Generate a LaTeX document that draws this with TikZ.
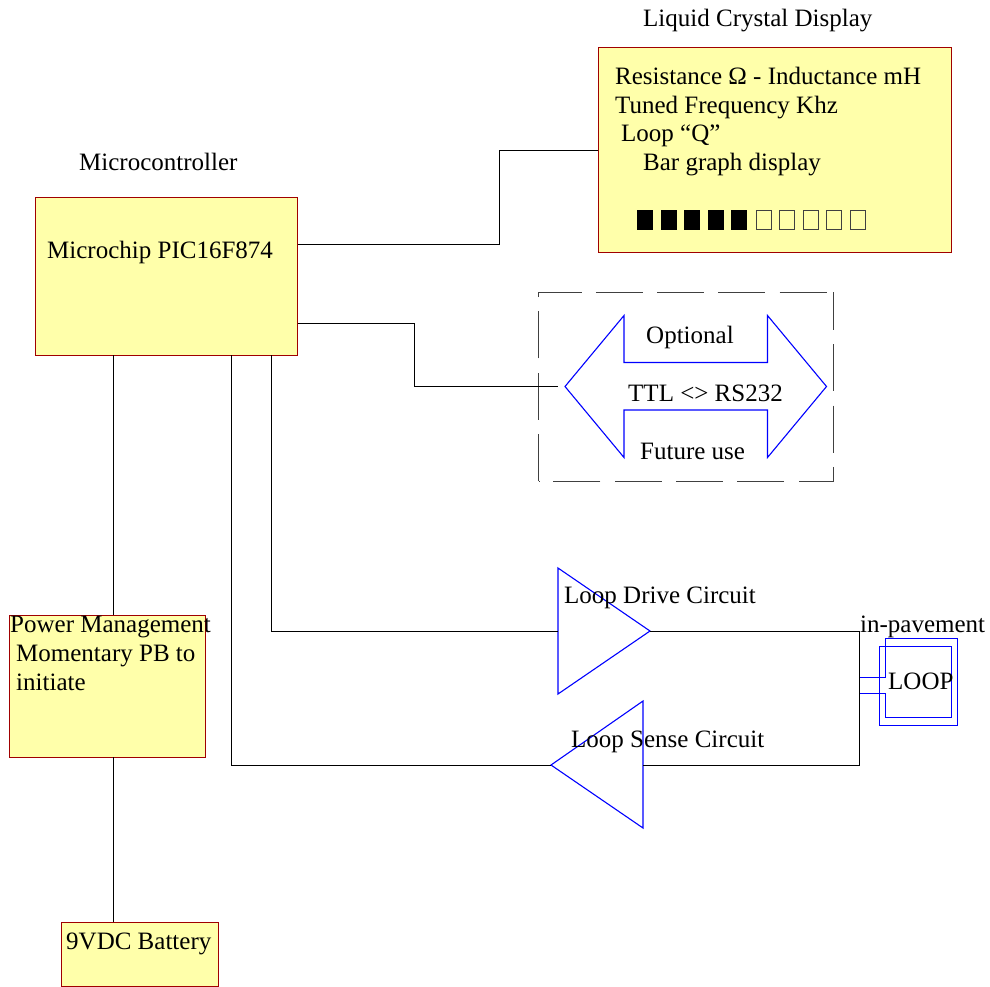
\documentclass[tikz,border=0pt]{standalone}
\usepackage{fontspec}
\setmainfont{Liberation Serif}
\definecolor{boxfill}{HTML}{FFFFAA}
\definecolor{boxedge}{HTML}{A00000}
\definecolor{loopblue}{HTML}{0000FF}
\tikzset{
  yellowbox/.style={draw=boxedge,fill=boxfill,line width=1pt,inner sep=0pt,anchor=north west},
  lbl/.style={anchor=base west,inner sep=0pt,font=\fontsize{25}{29}\selectfont},
  wire/.style={draw=black,line width=1pt},
  blueline/.style={draw=loopblue,line width=1.1pt},
  frameline/.style={draw=black!75,line width=1pt,dash pattern=on 47pt off 14.3pt},
  barcell/.style={draw=black,line width=1pt,inner sep=0pt,minimum width=15pt,minimum height=19pt,anchor=north west},
}
\begin{document}
\begin{tikzpicture}[x=1pt,y=-1pt]
\useasboundingbox (0,0) rectangle (990,986);
\fill[white] (0,0) rectangle (990,986);
% boxes
\node[yellowbox,minimum width=262pt,minimum height=158pt] (mcu) at (34.5,197) {};
\node[yellowbox,minimum width=353pt,minimum height=205pt] (lcd) at (597.5,47) {};
\node[yellowbox,minimum width=196pt,minimum height=142pt] (pm) at (8.5,615) {};
\node[yellowbox,minimum width=157pt,minimum height=64pt] (batt) at (60.5,922) {};
% dashed frame
\coordinate (fTL) at (538.5,292);
\coordinate (fTR) at (833.5,292);
\coordinate (fBR) at (833.5,481);
\coordinate (fBL) at (538.5,481);
\draw[frameline,dash phase=4pt] (fTL) -- (fTR);
\draw[frameline,dash phase=9pt] (fTR) -- (fBR);
\draw[frameline,dash phase=12pt] (fBR) -- (fBL);
\draw[frameline] (fBL) -- (fTL);
% double arrow
\coordinate (arrowL) at (565,386.5);
\coordinate (arrowR) at (826.5,386.5);
\draw[blueline,line join=miter] (arrowL) -- (624,315.5) -- (624,362.5) -- (767.5,362.5) -- (767.5,315.5) -- (arrowR) -- (767.5,457.5) -- (767.5,410) -- (624,410) -- (624,457.5) -- cycle;
% triangles
\coordinate (driveIn) at (558,631);
\coordinate (driveOut) at (650,631);
\coordinate (senseIn) at (643,765);
\coordinate (senseOut) at (551,765);
\draw[blueline] (558,568) -- (driveOut) -- (558,694) -- cycle;
\draw[blueline] (643,701) -- (senseOut) -- (643,828) -- cycle;
% loop coil
\coordinate (coilA) at (860,677.5);
\coordinate (coilB) at (860,693.5);
\draw[blueline] (coilA) -- (885.5,677.5) -- (885.5,638.5) -- (957.5,638.5) -- (957.5,725.5) -- (879.5,725.5) -- (879.5,646.5) -- (951.5,646.5) -- (951.5,717.5) -- (885.5,717.5) -- (885.5,693.5) -- (coilB);
% port coordinates
\coordinate (mcuLcd) at (mcu.east |- 0,244);
\coordinate (lcdIn) at (lcd.west |- 0,150);
\coordinate (mcuSer) at (mcu.east |- 0,323);
\coordinate (serEnd) at (558,386.5);
\coordinate (mcuDrive) at (271,355);
\coordinate (mcuSense) at (231,355);
\coordinate (mcuPwr) at (113,355);
\coordinate (pmTop) at (113,615);
\coordinate (pmBot) at (113,757);
\coordinate (battTop) at (113,922);
\coordinate (coilRail) at (859.5,631);
% wires
\draw[wire] (mcuLcd) -- (499.5,244) -- (499.5,150) -- (lcdIn);
\draw[wire] (mcuSer) -- (414.5,323) -- (414.5,386.5) -- (serEnd);
\draw[wire] (mcuPwr) -- (pmTop);
\draw[wire] (pmBot) -- (battTop);
\draw[wire] (mcuDrive) |- (driveIn);
\draw[wire] (mcuSense) |- (senseOut);
\draw[wire] (driveOut) -- (coilRail) -- (859.5,765) -- (senseIn);
% bar graph
\foreach \i in {0,...,4} {
  \node[barcell,fill=black] (barOn\i) at ({637+23.6*\i},209.5) {};
}
\foreach \i in {5,...,9} {
  \node[barcell,draw=black!75,line width=1pt] (barOff\i) at ({637.5+23.6*\i},209.5) {};
}
% labels
\node[lbl] (tLcdTitle) at (643,26) {Liquid Crystal Display};
\node[lbl] (tRes) at (615,84) {Resistance Ω - Inductance mH};
\node[lbl] (tTuned) at (615,113) {Tuned Frequency Khz};
\node[lbl] (tQ) at (621,141) {Loop “Q”};
\node[lbl] (tBar) at (643,170) {Bar graph display};
\node[lbl] (tMc) at (79,170) {Microcontroller};
\node[lbl] (tChip) at (47,258) {Microchip PIC16F874};
\node[lbl] (tOpt) at (646,343) {Optional};
\node[lbl] (tTtl) at (628,401) {TTL <> RS232};
\node[lbl] (tFut) at (640,459) {Future use};
\node[lbl] (tDrive) at (564,603) {Loop Drive Circuit};
\node[lbl] (tSense) at (571,747) {Loop Sense Circuit};
\node[lbl] (tPave) at (860,632) {in-pavement};
\node[lbl] (tLoop) at (888,689) {LOOP};
\node[lbl] (tPm) at (10,632) {Power Management};
\node[lbl] (tPb) at (16,661) {Momentary PB to};
\node[lbl] (tInit) at (16,690) {initiate};
\node[lbl] (tBatt) at (66,949) {9VDC Battery};
\end{tikzpicture}
\end{document}
